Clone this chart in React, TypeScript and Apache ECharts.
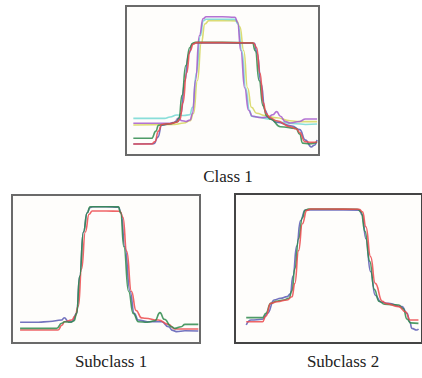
import React, { useEffect, useRef } from "react";
import * as echarts from "echarts";

type Pt = [number, number];

// Class 1 (top panel)
const class1Red: Pt[] = [[3.8,7.4],[13.3,7.4],[15,9],[16.8,16],[18.5,20.5],[22.8,21],[26.3,22],[28.0,24],[29.5,35],[31.4,55],[33.2,70],[34.9,74.5],[36.5,75.4],[50,75.4],[66,75.2],[67.7,72],[69.4,55],[71.2,35],[72.5,28],[74.6,25],[78,23],[85,19],[88.4,17.5],[90,15],[92.7,9],[96,8.5],[99,8.7]];
const class1Green: Pt[] = [[3.8,11.2],[13.3,11.2],[15.5,16],[16.8,20],[22.8,21],[26,22],[27.5,25],[29,40],[31,60],[33,72],[34.5,75],[36,75.6],[50,75.6],[65.5,75.3],[67,70],[69,50],[71,33],[73,26],[75,24],[80,19],[88,17.9],[90,14],[91.5,8],[95,7.5],[99,8.5]];
const class1Blue: Pt[] = [[3.8,7.4],[14.5,7.6],[16.5,12],[18.5,20],[22.8,21],[27,22.5],[28.5,28],[30.5,50],[32.5,68],[34.5,74.5],[36,75.2],[50,75.2],[66.5,75],[68,68],[70,48],[72,30],[74,25],[78,22],[86,19.5],[90,17],[93,10],[96,5.4],[97.5,6.5],[99,10.1]];
const class1Violet: Pt[] = [[3.8,21.3],[22.8,21.3],[25,22],[27.1,24.6],[29,23],[31,22.5],[33.2,23.5],[34.5,28],[36,50],[38,80],[40,91.5],[41.5,92.8],[50,92.8],[56.5,92.5],[57.8,89],[59.5,70],[61.5,45],[63.5,30],[65.5,26],[70,25],[73.8,25.5],[76,27],[78.1,29.1],[80,26],[82.5,22.5],[85,21.5],[90,22.5],[93,24.2],[99,24.2]];
const class1Cyan: Pt[] = [[3.8,24.6],[20,24.6],[22.8,25.5],[26.3,26.8],[30,26.5],[33,27],[34.5,32],[36.5,55],[38.5,80],[40.1,90],[41.5,91.1],[50,91.1],[56.5,91],[58,88],[60,70],[62,45],[64,30],[65.1,26],[68,25.5],[75,24],[80,22],[88,21],[93,20.5],[99,20.8]];
const class1Yellow: Pt[] = [[3.8,20.1],[25,20.5],[30,21.5],[33.2,23],[35,28],[37,50],[39,75],[40.9,88],[43,90.2],[50,90.2],[57.3,90],[59,86],[61,70],[63,45],[65,32],[67.7,28],[72,26.5],[78,25],[85,23],[90,22.4],[99,22.4]];

// Subclass 1 (bottom left)
const sub1Blue: Pt[] = [[4.3,14],[14,14],[20,14.5],[26.4,15.5],[27.8,17.1],[30,14.4],[32,14.5],[34.4,20],[36,45],[38,75],[40,88],[41.5,91.4],[43,92.1],[50,92.1],[56.6,91.8],[58,88],[60,65],[62.8,35],[65,20],[67.2,15.5],[72,14.4],[79.6,14.4],[83.2,11],[85.5,8.5],[87.4,7.7],[92,8.3],[99.1,8.1]];
const sub1Green: Pt[] = [[4.3,9.9],[23.8,9.9],[26.4,13.3],[28,14.4],[31,14],[33,15],[34.4,20],[36,45],[38,75],[40,88],[41.5,92],[43,92.1],[50,92.1],[56.6,92],[57.8,88],[59.5,65],[62,35],[64.5,20],[67.2,14.4],[72,14],[76,15],[78.7,20.5],[81,16],[84.9,11],[86.6,9.9],[90,11],[92,12.6],[99.1,12.6]];
const sub1Red: Pt[] = [[4.3,8.8],[24.5,8.8],[26.5,12],[28,14.4],[31.7,15.5],[33.5,18],[35.3,25],[37,50],[39,75],[41,87],[42.7,89.2],[50,89.2],[57.4,89],[59,85],[61,62],[63.5,35],[66,22],[68.9,17],[70.7,16.7],[77.8,15.5],[83.2,12.6],[86.6,9.5],[90,9.5],[99.1,9.5]];

// Subclass 2 (bottom right)
const sub2Green: Pt[] = [[6,17],[14.7,17],[16.5,20],[19.1,26.6],[22,28],[26.1,28.9],[28.8,30],[30.5,35],[32,50],[34,70],[36,84],[37.5,89],[39.3,89.9],[50,89.9],[65.6,89.8],[67.4,88],[69.5,75],[72,55],[74.5,36],[77,28],[80,26],[87.5,25.5],[90,23],[92,16],[94,13.5],[98.1,13.2]];
const sub2Red: Pt[] = [[6,14.3],[14.7,14.3],[16.5,18],[19.1,26.6],[22.6,27.7],[27.9,28.9],[30.5,31],[32,40],[34,62],[36,80],[38.4,89],[40.5,89.9],[50,89.9],[66.5,89.8],[68.2,88],[70,78],[72.5,58],[75,40],[78.8,28],[80.5,26.6],[87.5,24.4],[91.1,21],[93.7,15.4],[98.1,15.4]];
const sub2Blue: Pt[] = [[6,12.1],[8.6,15.4],[14.7,15.9],[17.4,20],[20.9,28.9],[24.4,30],[27.9,31.1],[29.6,33],[31,45],[33,65],[35,82],[37.5,89.3],[50,89.3],[66.5,89.2],[68,86],[70,70],[72.5,48],[75,32],[78,27.5],[82,26.6],[89.3,24.4],[92,20],[93.5,14],[94.6,9.8],[97.2,8.7],[98.1,9.5]];

const panelTitles = ["Class 1", "Subclass 1", "Subclass 2"];

const RED = "#ec4a4c";
const GREEN = "#2f8a4c";
const BLUE = "#5b5bb4";
const VIOLET = "#a65acb";
const CYAN = "#74d8d2";
const YELLOW = "#d6d65c";

export default function App() {
  const ref = useRef<HTMLDivElement>(null);
  useEffect(() => {
    if (!ref.current) return;
    const chart = echarts.init(ref.current, undefined, { renderer: "svg" });
    const grids = [
      { left: 126, top: 6, width: 193, height: 149, borderColor: "#6a6a6a" },
      { left: 12, top: 195, width: 188, height: 148, borderColor: "#6a6a6a" },
      { left: 235, top: 194, width: 190, height: 149, borderColor: "#444" },
    ].map((g) => ({ ...g, show: true, borderWidth: 2, backgroundColor: "#fefdfb" }));
    const axisBase = { type: "value" as const, min: 0, max: 100, show: false };
    const mk = (data: Pt[], color: string, idx: number) => ({
      type: "line",
      data,
      xAxisIndex: idx,
      yAxisIndex: idx,
      showSymbol: false,
      smooth: 0.5,
      smoothMonotone: "x",
      lineStyle: { color, width: 1.6, opacity: 0.85 },
      silent: true,
    });
    chart.setOption({
      animation: false,
      backgroundColor: "#ffffff",
      grid: grids,
      xAxis: [0, 1, 2].map((i) => ({ ...axisBase, gridIndex: i })),
      yAxis: [0, 1, 2].map((i) => ({ ...axisBase, gridIndex: i })),
      series: [
        mk(class1Yellow, YELLOW, 0),
        mk(class1Cyan, CYAN, 0),
        mk(class1Violet, VIOLET, 0),
        mk(class1Blue, BLUE, 0),
        mk(class1Green, GREEN, 0),
        mk(class1Red, RED, 0),
        mk(sub1Blue, BLUE, 1),
        mk(sub1Red, RED, 1),
        mk(sub1Green, GREEN, 1),
        mk(sub2Blue, BLUE, 2),
        mk(sub2Green, GREEN, 2),
        mk(sub2Red, RED, 2),
      ],
      graphic: [
        [228, 176],
        [111, 361],
        [343, 361],
      ].map(([x, y], i) => ({
        type: "text",
        x,
        y,
        style: {
          text: panelTitles[i],
          fill: "#222",
          font: '17px "Liberation Serif", "DejaVu Serif", serif',
          textAlign: "center",
          textVerticalAlign: "middle",
        },
      })),
    });
    return () => chart.dispose();
  }, []);
  return (
    <div
      ref={ref}
      style={{ position: "fixed", left: 0, top: 0, width: 422, height: 378 }}
    />
  );
}
